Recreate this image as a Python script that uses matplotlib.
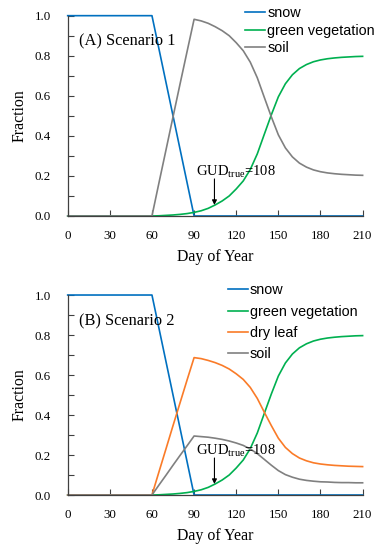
import numpy as np
import matplotlib
matplotlib.use("Agg")
import matplotlib.pyplot as plt

plt.rcParams['font.family'] = ['Liberation Serif', 'DejaVu Serif']
plt.rcParams['mathtext.fontset'] = 'custom'
plt.rcParams['mathtext.rm'] = 'Liberation Serif'

# data
snow_days = [0, 60, 90, 210]
snow = [1.0, 1.0, 0.0, 0.0]

days = list(range(0, 215, 5))
green = [0, 0, 0, 0, 0, 0, 0, 0, 0, 0, 0, 0,
         0.000, 0.001, 0.003, 0.005, 0.008, 0.012, 0.018, 0.026, 0.038, 0.055,
         0.075, 0.100, 0.135, 0.175, 0.232, 0.310, 0.408, 0.505, 0.595, 0.660,
         0.705, 0.736, 0.756, 0.770, 0.779, 0.785, 0.789, 0.792, 0.794, 0.796, 0.797]
soil_a = [0, 0, 0, 0, 0, 0, 0, 0, 0, 0, 0, 0,
          0.000, 0.166, 0.330, 0.495, 0.659, 0.821, 0.982, 0.974, 0.962, 0.945,
          0.925, 0.900, 0.865, 0.825, 0.768, 0.690, 0.592, 0.495, 0.405, 0.340,
          0.295, 0.264, 0.244, 0.230, 0.221, 0.215, 0.211, 0.208, 0.206, 0.204, 0.203]
dry_leaf = [0, 0, 0, 0, 0, 0, 0, 0, 0, 0, 0, 0,
            0.000, 0.116, 0.231, 0.347, 0.461, 0.575, 0.687, 0.682, 0.673, 0.662,
            0.648, 0.630, 0.606, 0.578, 0.538, 0.483, 0.414, 0.347, 0.284, 0.238,
            0.207, 0.185, 0.171, 0.161, 0.155, 0.151, 0.148, 0.146, 0.144, 0.143, 0.142]
soil_b = [0, 0, 0, 0, 0, 0, 0, 0, 0, 0, 0, 0,
          0.000, 0.050, 0.099, 0.149, 0.198, 0.246, 0.295, 0.292, 0.289, 0.284,
          0.278, 0.270, 0.260, 0.248, 0.230, 0.207, 0.178, 0.149, 0.122, 0.102,
          0.089, 0.079, 0.073, 0.069, 0.066, 0.065, 0.063, 0.062, 0.062, 0.061, 0.061]

gud_day = 104.5
gud_value = 0.055

c_snow = '#0070C0'
c_green = '#00B050'
c_dry = '#FA7B28'
c_soil = '#808080'
lw = 1.2

fig = plt.figure(figsize=(3.84, 5.5), dpi=100)
ax1 = fig.add_axes([0.1763, 0.6073, 0.768, 0.3642])
ax2 = fig.add_axes([0.1763, 0.1000, 0.768, 0.3636])


def style(ax):
    ax.set_xlim(0, 210)
    ax.set_ylim(0, 1)
    ax.set_xticks(np.arange(0, 211, 30))
    ax.set_yticks(np.arange(0, 1.01, 0.2))
    ax.set_yticks(np.arange(0.1, 1.0, 0.2), minor=True)
    ax.set_yticklabels(['%.1f' % v for v in np.arange(0, 1.01, 0.2)])
    for s in ['top', 'right']:
        ax.spines[s].set_visible(False)
    for s in ['left', 'bottom']:
        ax.spines[s].set_color('#404040')
        ax.spines[s].set_linewidth(0.9)
    ax.tick_params(axis='x', direction='in', length=4, width=0.8, color='#404040',
                   labelsize=9.3, pad=10)
    ax.tick_params(axis='y', which='both', direction='in', length=4, width=0.8,
                   color='#404040', labelsize=9.3, pad=12)
    ax.set_xlabel('Day of Year', fontsize=11.4, labelpad=5)
    ax.set_ylabel('Fraction', fontsize=11.4, labelpad=5)


def gud(ax):
    ax.annotate('', xy=(gud_day, gud_value), xytext=(gud_day, 0.185),
                arrowprops=dict(arrowstyle='-|>', color='k', lw=0.8,
                                mutation_scale=7, shrinkA=0, shrinkB=0))
    ax.text(91.5, 0.22, r'GUD$_{\mathrm{true}}$=108', fontsize=10.5,
            va='center', ha='left')


# (A)
ax1.plot(snow_days, snow, color=c_snow, lw=lw, label='snow', clip_on=False)
ax1.plot(days, green, color=c_green, lw=lw, label='green vegetation', clip_on=False)
ax1.plot(days, soil_a, color=c_soil, lw=lw, label='soil', clip_on=False)
style(ax1)
ax1.text(8, 0.87, '(A) Scenario 1', fontsize=11.8, va='center', ha='left')
gud(ax1)
ax1.legend(loc='upper left', bbox_to_anchor=(0.601, 1.05), frameon=False,
           prop={'family': 'Liberation Sans', 'size': 10.4}, handlelength=1.4,
           handletextpad=0.15, labelspacing=0.27, borderpad=0, borderaxespad=0)

# (B)
ax2.plot(snow_days, snow, color=c_snow, lw=lw, label='snow', clip_on=False)
ax2.plot(days, green, color=c_green, lw=lw, label='green vegetation', clip_on=False)
ax2.plot(days, dry_leaf, color=c_dry, lw=lw, label='dry leaf', clip_on=False)
ax2.plot(days, soil_b, color=c_soil, lw=lw, label='soil', clip_on=False)
style(ax2)
ax2.text(8, 0.87, '(B) Scenario 2', fontsize=11.8, va='center', ha='left')
gud(ax2)
ax2.legend(loc='upper left', bbox_to_anchor=(0.542, 1.058), frameon=False,
           prop={'family': 'Liberation Sans', 'size': 10.4}, handlelength=1.4,
           handletextpad=0.15, labelspacing=0.5, borderpad=0, borderaxespad=0)

fig.savefig('out.png', dpi=100)
